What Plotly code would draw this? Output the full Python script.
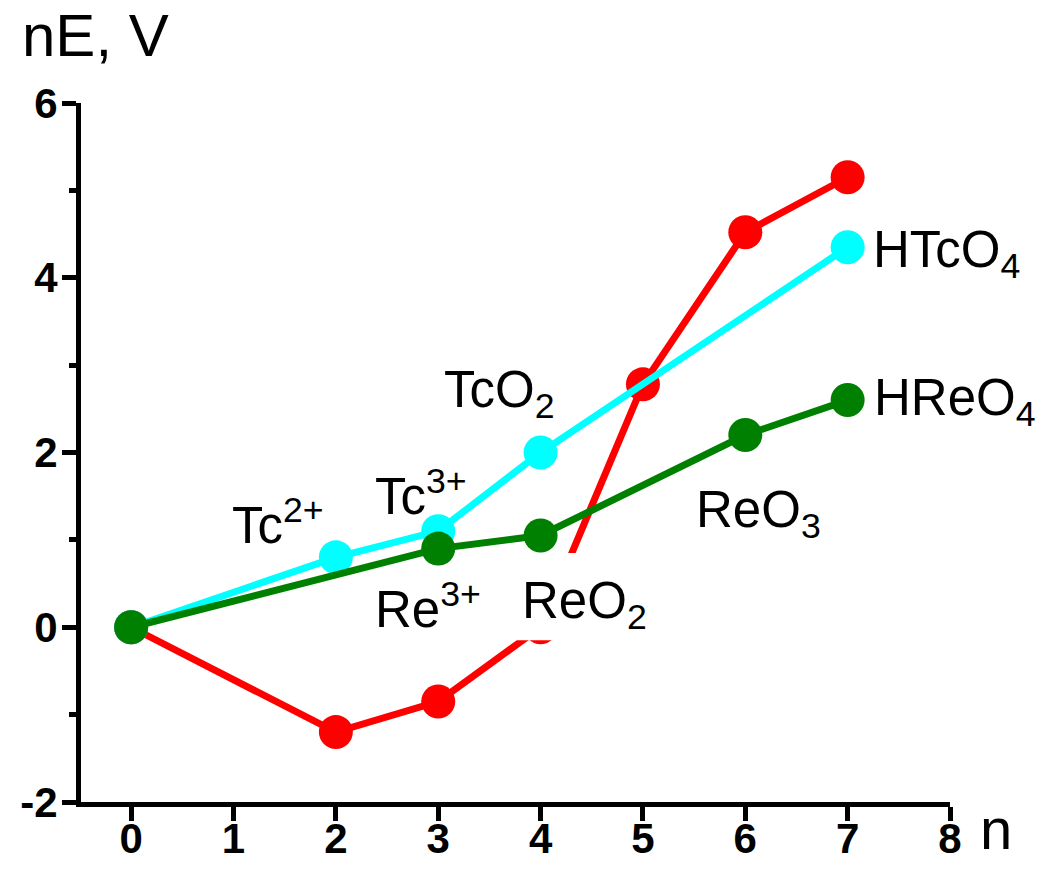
import plotly.graph_objects as go

# ---- data ----
n_red = [0, 2, 3, 4, 5, 6, 7]
e_red = [0, -1.2, -0.85, 0.0, 2.78, 4.52, 5.15]

n_tc = [0, 2, 3, 4, 7]
e_tc = [0, 0.8, 1.1, 2.0, 4.35]

n_re = [0, 3, 4, 6, 7]
e_re = [0, 0.9, 1.05, 2.2, 2.6]

x_ticks = [0, 1, 2, 3, 4, 5, 6, 7, 8]
y_ticks = [-2, 0, 2, 4, 6]
y_tick_text = ["-2", "0", "2", "4", "6"]
y_minor = [-1, 1, 3, 5]

# label text, x (data), y (data)
labels = [
    ("Tc<sup>2+</sup>", 1.43, 1.20),
    ("Tc<sup>3+</sup>", 2.83, 1.54),
    ("Re<sup>3+</sup>", 2.90, 0.24),
    ("TcO<sub>2</sub>", 3.60, 2.68),
    ("ReO<sub>3</sub>", 6.13, 1.30),
    ("HTcO<sub>4</sub>", 7.97, 4.28),
    ("ReO<sub>2</sub>", 4.43, 0.26),
]

FONT = "Arial, Liberation Sans, sans-serif"

L, R, T, B = 81, 91, 103, 67
W, H = 1041, 869
PW, PH = W - L - R, H - T - B


def paper(px, py):
    return (px - L) / PW, (H - B - py) / PH


fig = go.Figure()
for xs, ys, col in [(n_red, e_red, "#ff0000"), (n_tc, e_tc, "#00ffff"), (n_re, e_re, "#008000")]:
    fig.add_trace(go.Scatter(
        x=xs, y=ys, mode="lines+markers",
        line=dict(color=col, width=7),
        marker=dict(color=col, size=34, line=dict(width=0)),
        showlegend=False, cliponaxis=False,
    ))

# white background patch behind the ReO2 label (hides part of the red curve)
fig.add_shape(type="rect", x0=3.62, x1=5.1, y0=-0.15, y1=0.85,
              xref="x", yref="y", fillcolor="white", line=dict(width=0), layer="above")

for txt, x, y in labels:
    fig.add_annotation(x=x, y=y, text=txt, showarrow=False,
                       font=dict(family=FONT, size=51, color="black"),
                       xanchor="center", yanchor="middle")

# labels placed beyond the axis range -> paper coordinates
for txt, px, py, size, anchor in [
    ("HReO<sub>4</sub>", 955, 402, 51, "center"),
    ("nE, V", 20, 36, 60, "left"),
    ("n", 996, 828, 58, "center"),
]:
    xp, yp = paper(px, py)
    fig.add_annotation(x=xp, y=yp, xref="paper", yref="paper", text=txt, showarrow=False,
                       font=dict(family=FONT, size=size, color="black"),
                       xanchor=anchor, yanchor="middle")

fig.update_xaxes(
    range=[-0.49, 8], tickvals=x_ticks, showline=True, linewidth=5, linecolor="black",
    ticks="outside", ticklen=14, tickwidth=5, tickcolor="black",
    tickfont=dict(family=FONT, size=42, color="black", weight="bold"),
    ticklabelstandoff=-18,
    showgrid=False, zeroline=False, mirror=False, automargin=False,
)
fig.update_yaxes(
    range=[-2, 6], tickvals=y_ticks, ticktext=y_tick_text,
    showline=True, linewidth=5, linecolor="black",
    ticks="outside", ticklen=14, tickwidth=5, tickcolor="black",
    tickfont=dict(family=FONT, size=42, color="black", weight="bold"),
    ticklabelstandoff=-4,
    minor=dict(tickvals=y_minor, ticks="outside", ticklen=7, tickwidth=5, tickcolor="black"),
    showgrid=False, zeroline=False, automargin=False,
)
fig.update_layout(
    width=W, height=H,
    margin=dict(l=L, r=R, t=T, b=B),
    plot_bgcolor="white", paper_bgcolor="white",
)
fig.write_html("out.html", config={"displayModeBar": False},
               post_script="document.body.style.margin='0';document.body.style.overflow='hidden';")
